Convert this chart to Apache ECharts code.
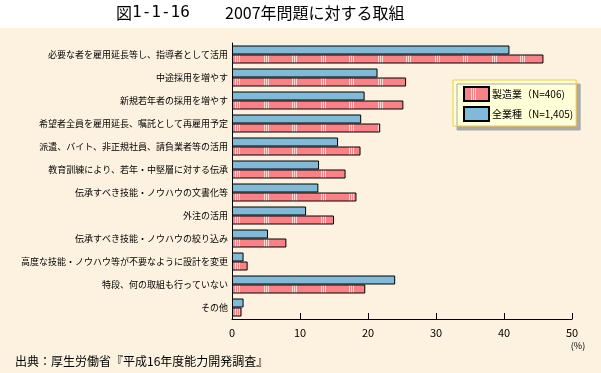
<!DOCTYPE html>
<html>
<head>
<meta charset="utf-8">
<script src="https://cdn.jsdelivr.net/npm/echarts@6/dist/echarts.min.js"></script>
<style>
html,body{margin:0;padding:0;background:#fff;}
#c{width:601px;height:373px;}
</style>
</head>
<body>
<div id="c"></div>
<script>
const categories = [
  '必要な者を雇用延長等し、指導者として活用',
  '中途採用を増やす',
  '新規若年者の採用を増やす',
  '希望者全員を雇用延長、嘱託として再雇用予定',
  '派遣、バイト、非正規社員、請負業者等の活用',
  '教育訓練により、若年・中堅層に対する伝承',
  '伝承すべき技能・ノウハウの文書化等',
  '外注の活用',
  '伝承すべき技能・ノウハウの絞り込み',
  '高度な技能・ノウハウ等が不要なように設計を変更',
  '特段、何の取組も行っていない',
  'その他'
];
const manufacturing = [45.8, 25.6, 25.2, 21.8, 18.9, 16.7, 18.3, 15.0, 8.0, 2.3, 19.6, 1.4];
const allIndustries = [40.8, 21.4, 19.5, 19.0, 15.6, 12.8, 12.7, 10.9, 5.3, 1.7, 24.0, 1.7];
const xTicks = [0, 10, 20, 30, 40, 50];
const seriesNames = ['製造業（N=406)', '全業種（N=1,405)'];

const FONT = '"Noto Sans CJK JP", sans-serif';

// striped pink pattern
const pc = document.createElement('canvas');
pc.width = 57; pc.height = 4;
const g = pc.getContext('2d');
g.fillStyle = '#FA8287';
g.fillRect(0, 0, 57, 4);
g.fillStyle = '#FFD6D4';
[7, 9, 11, 36, 38, 40].forEach(x => g.fillRect(x, 0, 1, 4));

const chart = echarts.init(document.getElementById('c'), null, {renderer: 'canvas'});
chart.setOption({
  backgroundColor: '#ffffff',
  animation: false,
  textStyle: {fontFamily: FONT},
  graphic: [
    {type: 'rect', z: -100, silent: true, shape: {x: 0, y: 28, width: 601, height: 345}, style: {fill: '#FDF2E0'}},
    {type: 'text', silent: true, x: 116, y: 12.5, style: {
      text: '{a|図}{b|1-1-16}',
      verticalAlign: 'middle', align: 'left',
      rich: {
        a: {fontSize: 16, fontFamily: FONT, fill: '#000'},
        b: {fontSize: 16, fontFamily: '"DejaVu Sans Mono", monospace', fill: '#000', padding: [0, 0, 0, 0]}
      }
    }},
    {type: 'text', silent: true, x: 225, y: 12.5, style: {text: '2007年問題に対する取組', fontSize: 16, fill: '#000', align: 'left', verticalAlign: 'middle', fontFamily: FONT}},
    {type: 'text', silent: true, x: 578, y: 346, style: {text: '(%)', fontSize: 9, fill: '#000', align: 'center', verticalAlign: 'middle', fontFamily: FONT}},
    {type: 'text', silent: true, x: 15, y: 361, style: {text: '出典：厚生労働省『平成16年度能力開発調査』', fontSize: 12, fill: '#000', align: 'left', verticalAlign: 'middle', fontFamily: FONT}}
  ],
  legend: {
    data: [seriesNames[0], seriesNames[1]],
    orient: 'vertical',
    left: 453,
    top: 80,
    icon: 'rect',
    itemWidth: 25,
    itemHeight: 14,
    itemGap: 4,
    padding: [6, 3, 4, 10],
    backgroundColor: '#FFFFD8',
    borderColor: '#F8C840',
    borderWidth: 1,
    shadowColor: '#AAAAAA',
    shadowBlur: 0,
    shadowOffsetX: 4,
    shadowOffsetY: 4,
    textStyle: {fontSize: 10, color: '#000', fontFamily: FONT, padding: [0, 0, 0, -2]}
  },
  grid: {left: 232, right: 29, top: 43, bottom: 54, containLabel: false},
  xAxis: {
    type: 'value',
    min: 0, max: 50, interval: 10,
    axisLine: {show: true, lineStyle: {color: '#000', width: 1}},
    axisTick: {show: true, inside: true, length: 6, lineStyle: {color: '#000'}},
    axisLabel: {fontSize: 11, color: '#000', margin: 8, fontFamily: FONT,
      formatter: v => xTicks.indexOf(v) >= 0 ? String(v) : ''},
    splitLine: {show: false}
  },
  yAxis: {
    type: 'category',
    data: categories,
    inverse: true,
    axisLine: {show: true, lineStyle: {color: '#000', width: 1}},
    axisTick: {show: false},
    axisLabel: {fontSize: 9, color: '#000', margin: 4, fontFamily: FONT}
  },
  series: [
    {
      name: seriesNames[1],
      type: 'bar',
      data: allIndustries,
      barWidth: 9,
      barGap: '0%',
      itemStyle: {color: '#80BAD8', borderColor: '#000', borderWidth: 1}
    },
    {
      name: seriesNames[0],
      type: 'bar',
      data: manufacturing,
      barWidth: 9,
      barGap: '0%',
      itemStyle: {color: {image: pc, repeat: 'repeat'}, borderColor: '#000', borderWidth: 1}
    }
  ]
});
</script>
</body>
</html>
